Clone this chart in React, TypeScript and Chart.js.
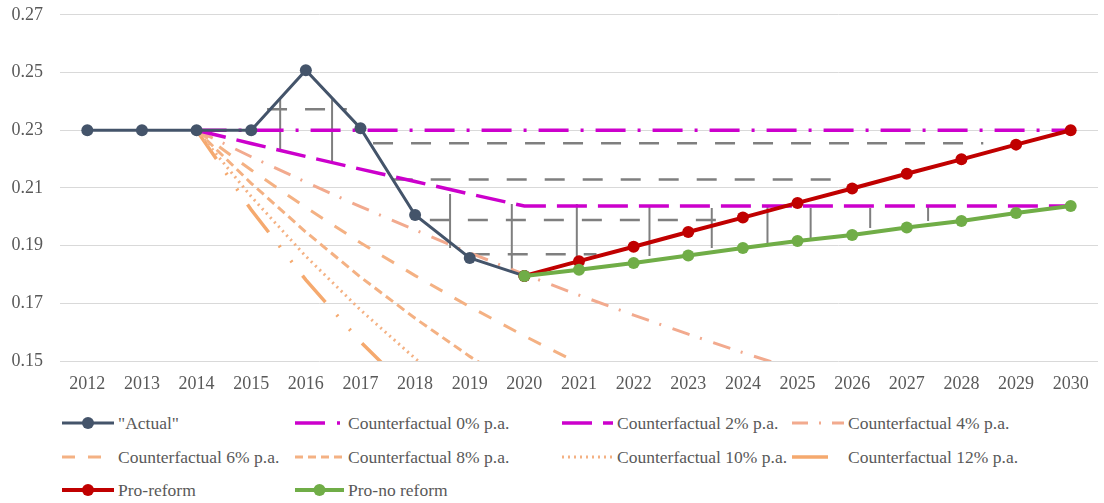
import React, { useEffect, useRef } from "react";
import { Chart, registerables } from "chart.js";

Chart.register(...registerables);

// ---------- data ----------
const years = [2012, 2013, 2014, 2015, 2016, 2017, 2018, 2019, 2020, 2021, 2022, 2023, 2024, 2025, 2026, 2027, 2028, 2029, 2030];
const yTicks = [0.15, 0.17, 0.19, 0.21, 0.23, 0.25, 0.27];

const actualYears = [2012, 2013, 2014, 2015, 2016, 2017, 2018, 2019, 2020];
const actual = [0.23, 0.23, 0.23, 0.23, 0.2508, 0.2307, 0.2006, 0.1857, 0.1795];

const cfYears = [2014, 2015, 2016, 2017, 2018, 2019, 2020, 2021, 2022, 2023, 2024, 2025, 2026, 2027, 2028, 2029, 2030];
const cf0 = [0.23, 0.23, 0.23, 0.23, 0.23, 0.23, 0.23, 0.23, 0.23, 0.23, 0.23, 0.23, 0.23, 0.23, 0.23, 0.23, 0.23];
const cf2 = [0.23, 0.2254, 0.2209, 0.2165, 0.2122, 0.2079, 0.2037, 0.2037, 0.2037, 0.2037, 0.2037, 0.2037, 0.2037, 0.2037, 0.2037, 0.2037, 0.2037];
const cf4 = [0.23, 0.2208, 0.212, 0.2035, 0.1954, 0.1875, 0.18, 0.1728, 0.1659, 0.1593, 0.1529, 0.1468];
const cf6 = [0.23, 0.2162, 0.2032, 0.191, 0.1796, 0.1688, 0.1587, 0.1491];
const cf8 = [0.23, 0.2116, 0.1947, 0.1791, 0.1648, 0.1516, 0.1395];
const cf10 = [0.23, 0.207, 0.1863, 0.1677, 0.1509, 0.1358];
const cf12 = [0.23, 0.2024, 0.1781, 0.1567, 0.1379];

const projYears = [2020, 2021, 2022, 2023, 2024, 2025, 2026, 2027, 2028, 2029, 2030];
const proReform = [0.1795, 0.1846, 0.1896, 0.1947, 0.1997, 0.2048, 0.2098, 0.2149, 0.2199, 0.225, 0.23];
const proNoReform = [0.1795, 0.1816, 0.184, 0.1866, 0.1892, 0.1916, 0.1937, 0.1963, 0.1985, 0.2013, 0.2037];

// gap markers (vertical grey bars) in data units
const gapX = [2015.53, 2016.48, 2018.64, 2019.77, 2020.96, 2022.29, 2023.43, 2024.45, 2025.24, 2026.33, 2027.39];
const gapTop = [0.2407, 0.2407, 0.2079, 0.2044, 0.2044, 0.2034, 0.203, 0.2037, 0.203, 0.203, 0.2037];
const gapBottom = [0.2234, 0.2193, 0.1892, 0.1805, 0.1815, 0.1864, 0.1892, 0.1906, 0.1926, 0.1961, 0.1985];

// grey dashed levels
const levelY = [0.2373, 0.2255, 0.2129, 0.1989, 0.187];
const levelStart = [2015.29, 2017.23, 2017.59, 2018.27, 2019.0];
const levelEnd = [2016.75, 2028.4, 2025.85, 2023.65, 2021.32];

// ---------- styles ----------
const FONT = '"Liberation Serif", "Times New Roman", serif';
const TEXT = "#595959";
const NAVY = "#44546A";
const MAGENTA = "#CC00CC";
const PEACH = "#F4B183";
const SALMON = "#F2AA8E";
const ORANGE12 = "#F5A96E";
const RED = "#C00000";
const GREEN = "#70AD47";
const GREY = "#7F7F7F";

const pts = (xs: number[], ys: (number | null)[]) => ys.map((y, i) => ({ x: xs[i], y }));

type Item = { label: string; color: string; dash: number[]; width: number; marker: boolean };
const legendRows: Item[][] = [
  [
    { label: '"Actual"', color: NAVY, dash: [], width: 3, marker: true },
    { label: "Counterfactual 0% p.a.", color: MAGENTA, dash: [30, 12, 3, 12], width: 3.5, marker: false },
    { label: "Counterfactual 2% p.a.", color: MAGENTA, dash: [30, 11], width: 3.5, marker: false },
    { label: "Counterfactual 4% p.a.", color: SALMON, dash: [16, 11, 2, 11], width: 3, marker: false },
  ],
  [
    { label: "Counterfactual 6% p.a.", color: PEACH, dash: [13, 13], width: 3, marker: false },
    { label: "Counterfactual 8% p.a.", color: PEACH, dash: [8, 5], width: 3, marker: false },
    { label: "Counterfactual 10% p.a.", color: PEACH, dash: [2, 4], width: 3, marker: false },
    { label: "Counterfactual 12% p.a.", color: ORANGE12, dash: [36, 30], width: 3.5, marker: false },
  ],
  [
    { label: "Pro-reform", color: RED, dash: [], width: 4, marker: true },
    { label: "Pro-no reform", color: GREEN, dash: [], width: 4, marker: true },
  ],
];
const colSampleLeft = [62, 295, 562, 792];
const colTextLeft = [118, 348, 617, 848];
const rowCenter = [423, 457, 490];

function Sample({ item, w }: { item: Item; w: number }) {
  return (
    <svg width={w} height={16} style={{ display: "block" }}>
      <line
        x1={0}
        y1={8}
        x2={w}
        y2={8}
        stroke={item.color}
        strokeWidth={item.width}
        strokeDasharray={item.dash.length ? item.dash.join(" ") : undefined}
      />
      {item.marker && <circle cx={w / 2} cy={8} r={6} fill={item.color} />}
    </svg>
  );
}

export default function App() {
  const ref = useRef<HTMLCanvasElement | null>(null);

  useEffect(() => {
    if (!ref.current) return;

    const vertData: { x: number; y: number | null }[] = [];
    gapX.forEach((x, i) => {
      vertData.push({ x, y: gapTop[i] }, { x, y: gapBottom[i] }, { x, y: null });
    });
    const levelSets = levelY.map((y, i) => ({
      data: [
        { x: levelStart[i], y },
        { x: levelEnd[i], y },
      ],
      borderColor: GREY,
      borderWidth: 2.5,
      borderDash: [20, 18],
      pointRadius: 0,
      order: 30,
    }));

    const chart = new Chart(ref.current, {
      type: "line",
      data: {
        datasets: [
          {
            label: "Pro-no reform",
            data: pts(projYears, proNoReform),
            borderColor: GREEN,
            backgroundColor: GREEN,
            borderWidth: 4,
            pointRadius: 6,
            pointBorderWidth: 0,
            order: 1,
          },
          {
            label: "Pro-reform",
            data: pts(projYears, proReform),
            borderColor: RED,
            backgroundColor: RED,
            borderWidth: 4,
            pointRadius: 6,
            pointBorderWidth: 0,
            order: 2,
          },
          {
            label: '"Actual"',
            data: pts(actualYears, actual),
            borderColor: NAVY,
            backgroundColor: NAVY,
            borderWidth: 3,
            pointRadius: 6,
            pointBorderWidth: 0,
            order: 3,
          },
          {
            label: "Counterfactual 0% p.a.",
            data: pts(cfYears, cf0),
            borderColor: MAGENTA,
            borderWidth: 3.5,
            borderDash: [30, 12, 3, 12],
            pointRadius: 0,
            order: 10,
          },
          {
            label: "Counterfactual 2% p.a.",
            data: pts(cfYears, cf2),
            borderColor: MAGENTA,
            borderWidth: 3.5,
            borderDash: [30, 11],
            pointRadius: 0,
            order: 11,
          },
          {
            label: "Counterfactual 4% p.a.",
            data: pts(cfYears, cf4),
            borderColor: SALMON,
            borderWidth: 3,
            borderDash: [18, 11, 2, 12],
            pointRadius: 0,
            order: 20,
          },
          {
            label: "Counterfactual 6% p.a.",
            data: pts(cfYears, cf6),
            borderColor: PEACH,
            borderWidth: 3,
            borderDash: [14, 14],
            pointRadius: 0,
            order: 21,
          },
          {
            label: "Counterfactual 8% p.a.",
            data: pts(cfYears, cf8),
            borderColor: PEACH,
            borderWidth: 3,
            borderDash: [9, 5],
            pointRadius: 0,
            order: 22,
          },
          {
            label: "Counterfactual 10% p.a.",
            data: pts(cfYears, cf10),
            borderColor: PEACH,
            borderWidth: 3,
            borderDash: [2, 4],
            pointRadius: 0,
            order: 23,
          },
          {
            label: "Counterfactual 12% p.a.",
            data: pts(cfYears, cf12),
            borderColor: ORANGE12,
            borderWidth: 3.5,
            borderDash: [35, 17, 2, 17, 2, 17],
            pointRadius: 0,
            order: 24,
          },
          {
            label: "gap",
            data: vertData,
            borderColor: GREY,
            borderWidth: 2,
            pointRadius: 0,
            spanGaps: false,
            order: 31,
          },
          ...levelSets,
        ] as any,
      },
      options: {
        animation: false,
        responsive: true,
        maintainAspectRatio: false,
        parsing: true,
        layout: { padding: { top: 1, right: 5, left: 0, bottom: 0 } },
        plugins: { legend: { display: false }, tooltip: { enabled: false } },
        events: [],
        scales: {
          x: {
            type: "linear",
            min: 2011.5,
            max: 2030.5,
            afterBuildTicks: (s: any) => {
              s.ticks = years.map((v) => ({ value: v }));
            },
            afterFit: (s: any) => {
              s.height = 39;
            },
            ticks: {
              autoSkip: false,
              maxRotation: 0,
              padding: 12,
              color: TEXT,
              font: { family: FONT, size: 18 },
              callback: (v: any) => String(v),
            },
            grid: { display: false, drawTicks: false },
            border: { display: false },
          },
          y: {
            type: "linear",
            min: 0.15,
            max: 0.27,
            afterBuildTicks: (s: any) => {
              s.ticks = yTicks.map((v) => ({ value: v }));
            },
            afterFit: (s: any) => {
              s.width = 60;
            },
            ticks: {
              padding: 17,
              color: TEXT,
              font: { family: FONT, size: 18 },
              callback: (v: any) => Number(v).toFixed(2),
            },
            grid: { color: "#D9D9D9", lineWidth: 1, drawTicks: false },
            border: { display: false },
          },
        },
      } as any,
    });
    return () => chart.destroy();
  }, []);

  return (
    <div style={{ position: "fixed", left: 0, top: 0, width: 1104, height: 503, background: "#fff", overflow: "hidden" }}>
      <div style={{ position: "absolute", left: 0, top: -13, width: 1104, height: 413 }}>
        <canvas ref={ref} />
      </div>
      {legendRows.map((row, r) =>
        row.map((item, c) => (
          <React.Fragment key={`${r}-${c}`}>
            <div style={{ position: "absolute", left: colSampleLeft[c], top: rowCenter[r] - 8 }}>
              <Sample item={item} w={colTextLeft[c] - colSampleLeft[c] - 4} />
            </div>
            <div
              style={{
                position: "absolute",
                left: colTextLeft[c],
                top: rowCenter[r] - 11,
                height: 22,
                lineHeight: "22px",
                fontFamily: FONT,
                fontSize: 17.5,
                color: TEXT,
                whiteSpace: "nowrap",
              }}
            >
              {item.label}
            </div>
          </React.Fragment>
        ))
      )}
    </div>
  );
}
